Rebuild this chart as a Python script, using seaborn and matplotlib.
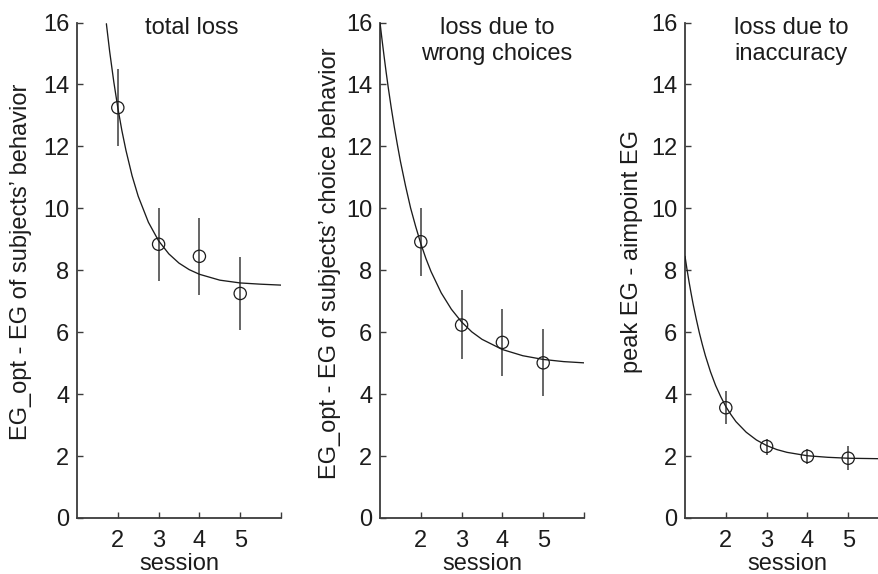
import numpy as np
import pandas as pd
import matplotlib
matplotlib.use("Agg")
import matplotlib.pyplot as plt
import matplotlib.transforms as mtransforms
import seaborn as sns

# ---------------- data ----------------
sessions = [2, 3, 4, 5]

total_mean = [13.25, 8.84, 8.45, 7.25]
total_lo = [12.0, 7.66, 7.20, 6.07]
total_hi = [14.5, 10.0, 9.70, 8.44]

choice_mean = [8.92, 6.23, 5.67, 5.01]
choice_lo = [7.82, 5.12, 4.60, 3.93]
choice_hi = [10.0, 7.36, 6.75, 6.10]

inacc_mean = [3.56, 2.31, 1.99, 1.93]
inacc_lo = [3.05, 2.05, 1.75, 1.55]
inacc_hi = [4.09, 2.56, 2.22, 2.32]

# fitted curves
total_fit_x = [1.72, 1.8, 1.9, 2.0, 2.1, 2.2, 2.35, 2.5, 2.75, 3.0, 3.25, 3.5, 3.75, 4.0, 4.5, 5.0, 5.5, 6.0]
total_fit_y = [15.96, 15.07, 14.10, 13.25, 12.51, 11.87, 11.05, 10.39, 9.55, 8.95, 8.53, 8.23, 8.02, 7.87, 7.68, 7.59, 7.55, 7.52]

choice_fit_x = [1.0, 1.05, 1.1, 1.15, 1.2, 1.275, 1.35, 1.425, 1.5, 1.625, 1.75, 1.875, 2.0, 2.125, 2.25, 2.5, 2.75, 3.0, 3.25, 3.5, 4.0, 4.5, 5.0, 5.5, 6.0]
choice_fit_y = [16.0, 15.44, 14.91, 14.40, 13.92, 13.25, 12.63, 12.06, 11.52, 10.73, 10.01, 9.41, 8.86, 8.38, 7.96, 7.27, 6.74, 6.33, 6.01, 5.77, 5.44, 5.24, 5.12, 5.05, 5.01]

inacc_fit_x = [1.0, 1.05, 1.1, 1.15, 1.2, 1.275, 1.35, 1.425, 1.5, 1.625, 1.75, 1.875, 2.0, 2.125, 2.25, 2.5, 2.75, 3.0, 3.25, 3.5, 4.0, 4.5, 5.0, 5.5, 6.0]
inacc_fit_y = [8.45, 8.02, 7.62, 7.25, 6.90, 6.43, 5.99, 5.60, 5.24, 4.72, 4.28, 3.92, 3.60, 3.34, 3.11, 2.77, 2.52, 2.34, 2.21, 2.12, 2.01, 1.96, 1.93, 1.92, 1.91]

titles = ["total loss", "loss due to\nwrong choices", "loss due to\ninaccuracy"]
ylabels = ["EG_opt - EG of subjects\u2019 behavior",
           "EG_opt - EG of subjects\u2019 choice behavior",
           "peak EG - aimpoint EG"]
xlabel = "session"
yticks = [0, 2, 4, 6, 8, 10, 12, 14, 16]
xticks = [2, 3, 4, 5, 6]
xticklabels = ["2", "3", "4", "5", ""]

# ---------------- style ----------------
sns.set_theme(style="white")
plt.rcParams["font.family"] = ["Liberation Sans", "DejaVu Sans"]
FS = 17
INK = "#1c1c1c"
AXC = "#3c3c3c"

W, H = 879, 574
fig = plt.figure(figsize=(W / 100, H / 100), dpi=100)

lefts = [77, 380, 685]
ax_w = 204
bottom_px, top_px = 518, 22.5
title_x = [3.82, 3.87, 3.60]
ylabel_xy = [(-0.275, 0.517), (-0.245, 0.515), (-0.262, 0.537)]

panels = [
    (total_mean, total_lo, total_hi, total_fit_x, total_fit_y),
    (choice_mean, choice_lo, choice_hi, choice_fit_x, choice_fit_y),
    (inacc_mean, inacc_lo, inacc_hi, inacc_fit_x, inacc_fit_y),
]

for i, (mean, lo, hi, fx, fy) in enumerate(panels):
    ax = fig.add_axes([lefts[i] / W, 1 - bottom_px / H, ax_w / W, (bottom_px - top_px) / H])
    fit_df = pd.DataFrame({"x": fx, "y": fy})
    pts_df = pd.DataFrame({"x": sessions, "y": mean})

    ax.vlines(sessions, lo, hi, color=AXC, linewidth=1.1, zorder=2)
    sns.lineplot(data=fit_df, x="x", y="y", ax=ax, color=INK, linewidth=0.95,
                 estimator=None, sort=False, zorder=3)
    sns.scatterplot(data=pts_df, x="x", y="y", ax=ax, marker="o", s=78, zorder=4)
    coll = ax.collections[-1]
    coll.set_facecolor("none")
    coll.set_edgecolor(INK)
    coll.set_linewidth(0.9)

    ax.set_xlim(1, 6)
    ax.set_ylim(0, 16)
    ax.set_xticks(xticks)
    ax.set_xticklabels(xticklabels)
    ax.set_yticks(yticks)
    ax.set_yticklabels([str(t) for t in yticks])
    ax.tick_params(axis="both", direction="in", length=4, width=1.0, color=AXC,
                   labelsize=FS, labelcolor=INK)
    ax.tick_params(axis="x", pad=8.8, bottom=True)
    ax.tick_params(axis="y", pad=5.5, left=True)
    for s in ["top", "right"]:
        ax.spines[s].set_visible(False)
    for s in ["left", "bottom"]:
        ax.spines[s].set_color(AXC)
        ax.spines[s].set_linewidth(1.3)

    ax.set_xlabel(xlabel, fontsize=FS, color=INK, va="baseline")
    ax.xaxis.set_label_coords(0.5, (bottom_px - 569.5) / (bottom_px - top_px))
    ax.set_ylabel(ylabels[i], fontsize=FS, color=INK, va="center")
    ax.yaxis.set_label_coords(*ylabel_xy[i])

    trans = mtransforms.blended_transform_factory(ax.transData, ax.transAxes)
    lines = titles[i].split("\n")
    for k, line in enumerate(lines):
        ybase = (bottom_px - (34.5 + 25.7 * k)) / (bottom_px - top_px)
        ax.text(title_x[i], ybase, line, transform=trans, ha="center",
                va="baseline", fontsize=FS, color=INK)
    ax.set_facecolor("white")

fig.savefig("out.png", dpi=100, facecolor="white")
